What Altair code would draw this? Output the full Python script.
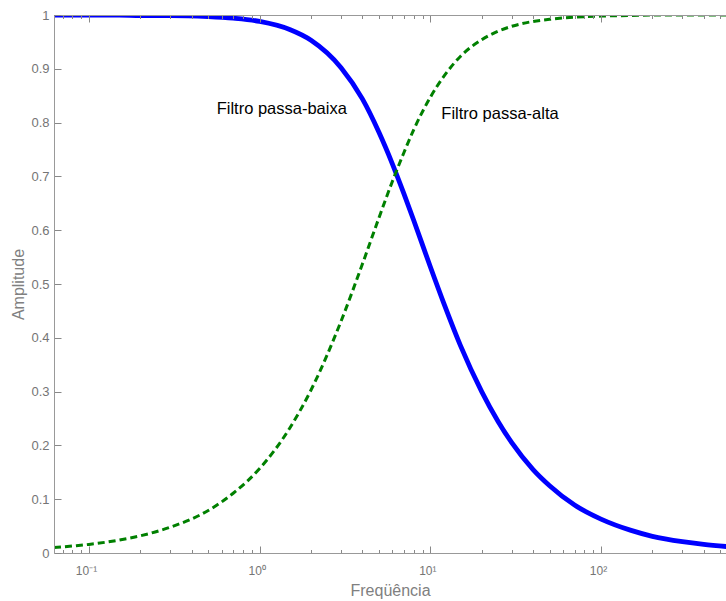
import altair as alt
import pandas as pd

# ---- data ----
freq = [0.0624, 0.08, 0.1, 0.15, 0.2, 0.3, 0.5, 0.7,
        1, 1.5, 2, 3, 4, 5, 6, 7, 8,
        10, 12, 15, 20, 25, 30, 40, 50, 70,
        100, 150, 200, 300, 400, 546]
low_pass = [1.000, 1.000, 1.000, 1.000, 0.999, 0.999, 0.997, 0.994,
            0.988, 0.973, 0.953, 0.902, 0.844, 0.782, 0.723, 0.668, 0.618,
            0.532, 0.464, 0.386, 0.300, 0.244, 0.205, 0.155, 0.125, 0.089,
            0.063, 0.042, 0.031, 0.021, 0.016, 0.012]
high_pass = [0.010, 0.013, 0.016, 0.024, 0.032, 0.048, 0.079, 0.111,
             0.157, 0.232, 0.303, 0.431, 0.537, 0.623, 0.691, 0.744, 0.787,
             0.847, 0.886, 0.923, 0.954, 0.970, 0.979, 0.988, 0.992, 0.996,
             0.998, 0.999, 1.000, 1.000, 1.000, 1.000]
series_names = ["Filtro passa-baixa", "Filtro passa-alta"]

label_text = ["Filtro passa-baixa", "Filtro passa-alta"]
label_freq = [0.56, 11.6]
label_amp = [0.8155, 0.8067]

x_major = [0.1, 1, 10, 100]
x_major_labels = ["10⁻¹", "10⁰", "10¹", "10²"]
x_minor = [0.07, 0.08, 0.09,
           0.2, 0.3, 0.4, 0.5, 0.6, 0.7, 0.8, 0.9,
           2, 3, 4, 5, 6, 7, 8, 9,
           20, 30, 40, 50, 60, 70, 80, 90,
           200, 300, 400, 500]
y_ticks = [0, 0.1, 0.2, 0.3, 0.4, 0.5, 0.6, 0.7, 0.8, 0.9, 1]
x_domain = [0.0624, 540]

# ---- tables ----
df = pd.DataFrame({
    "freq": freq * 2,
    "amp": low_pass + high_pass,
    "serie": [series_names[0]] * len(freq) + [series_names[1]] * len(freq),
})
labels_df = pd.DataFrame({"freq": label_freq, "amp": label_amp, "text": label_text})

FONT = "Liberation Sans"
AXIS_GRAY = "#999999"
TICK_GRAY = "#888888"
LABEL_GRAY = "#757575"
TITLE_GRAY = "#808080"

x_ticks = sorted(x_major + x_minor)
label_expr = " : ".join(
    f"datum.value == {v} ? '{t}'" for v, t in zip(x_major, x_major_labels)
) + " : ''"
major_list = "[" + ",".join(str(v) for v in x_major) + "]"
minor_dash = {
    "condition": {"test": f"indexof({major_list}, datum.value) < 0", "value": [0, 3.5, 3.5]},
    "value": [7, 0],
}

xscale = alt.Scale(type="log", domain=x_domain)
yscale = alt.Scale(domain=[0, 1])

bottom_axis = alt.Axis(
    orient="bottom", values=x_ticks, labelExpr=label_expr, offset=-7, tickSize=7,
    tickDash=minor_dash, tickColor=TICK_GRAY, tickWidth=1, domain=False, grid=False,
    labelFont=FONT, labelFontSize=12, labelColor=LABEL_GRAY, labelPadding=12,
    labelOffset=-3, labelFlush=False, labelOverlap=False,
    title="Freqüência", titleFont=FONT, titleFontSize=16, titleFontWeight="normal",
    titleColor=TITLE_GRAY, titlePadding=6, zindex=1,
)
top_axis = alt.Axis(
    orient="top", values=x_ticks, labels=False, offset=-7, tickSize=7,
    tickDash=minor_dash, tickColor=TICK_GRAY, tickWidth=1, domain=False, grid=False,
    title=None, zindex=1,
)
left_axis = alt.Axis(
    orient="left", values=y_ticks, format="~g", offset=-7, tickSize=7,
    tickColor=TICK_GRAY, tickWidth=1, domain=False, grid=False,
    labelFont=FONT, labelFontSize=13, labelColor=LABEL_GRAY, labelPadding=5,
    labelFlush=False, labelOverlap=False,
    title="Amplitude", titleFont=FONT, titleFontSize=16, titleFontWeight="normal",
    titleColor=TITLE_GRAY, titlePadding=4, zindex=1,
)
left_frame = alt.Axis(orient="left", ticks=False, labels=False, domain=True,
                      domainColor=AXIS_GRAY, grid=False, title=None, zindex=1)
bottom_frame = alt.Axis(orient="bottom", ticks=False, labels=False, domain=True,
                        domainColor=AXIS_GRAY, grid=False, title=None, zindex=1)
top_frame = alt.Axis(orient="top", ticks=False, labels=False, domain=True,
                     domainColor=AXIS_GRAY, grid=False, title=None, zindex=1)

base = alt.Chart(df)

low_line = base.transform_filter(alt.datum.serie == series_names[0]).mark_line(
    clip=True, interpolate="monotone", strokeWidth=4.8, color="#0000ff"
).encode(
    x=alt.X("freq:Q", scale=xscale, axis=bottom_axis),
    y=alt.Y("amp:Q", scale=yscale, axis=left_axis),
)

high_line = base.transform_filter(alt.datum.serie == series_names[1]).mark_line(
    clip=True, interpolate="monotone", strokeWidth=3, color="#008000", strokeDash=[7, 4]
).encode(
    x=alt.X("freq:Q", scale=xscale, axis=top_axis),
    y=alt.Y("amp:Q", scale=yscale, axis=left_frame),
)

texts = alt.Chart(labels_df).mark_text(
    align="left", baseline="alphabetic", font=FONT, fontSize=16.5, color="black"
).encode(
    x=alt.X("freq:Q", scale=xscale, axis=bottom_frame),
    y=alt.Y("amp:Q", scale=yscale, axis=None),
    text="text:N",
)

frame_top = alt.Chart(labels_df).mark_point(opacity=0).encode(
    x=alt.X("freq:Q", scale=xscale, axis=top_frame),
    y=alt.Y("amp:Q", scale=yscale, axis=None),
)

chart = alt.layer(low_line, high_line, texts, frame_top).resolve_axis(
    x="independent", y="independent"
).properties(
    width=672, height=538,
    padding={"left": 54, "top": 15, "right": 0, "bottom": 48},
    autosize=alt.AutoSizeParams(type="none"),
    background="white",
).configure_view(stroke=None)

chart.save("out.html", embed_options={"renderer": "svg", "actions": False})
